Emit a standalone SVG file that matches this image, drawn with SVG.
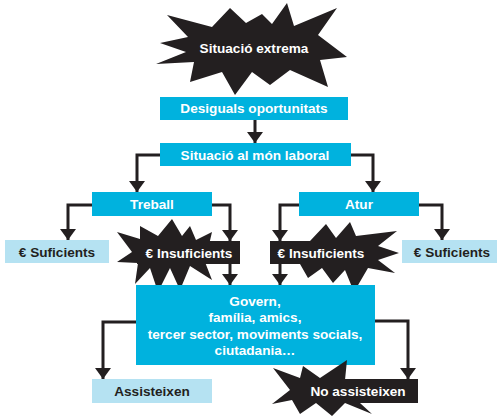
<svg xmlns="http://www.w3.org/2000/svg" width="500" height="416" viewBox="0 0 500 416">
<style>
.blue{fill:#00b2de}
.light{fill:#b5e2f2}
.dark{fill:#231f20}
.tw{font-family:"Liberation Sans",Arial,sans-serif;font-weight:bold;font-size:13.6px;fill:#ffffff;text-anchor:middle}
.td{font-family:"Liberation Sans",Arial,sans-serif;font-weight:bold;font-size:13.6px;fill:#231f20;text-anchor:middle}
.conn{fill:none;stroke:#231f20;stroke-width:3;marker-end:url(#arr)}
</style>
<defs>
<marker id="arr" markerUnits="userSpaceOnUse" markerWidth="12" markerHeight="16" refX="11" refY="8" orient="auto" viewBox="0 0 12 16">
<path d="M0,0 L11,8 L0,16 z" fill="#231f20"/>
</marker>
</defs>
<rect width="500" height="416" fill="#ffffff"/>
<g id="connectors">
<path class="conn" d="M255,120 V143"/>
<path class="conn" d="M160,155 H137 V192"/>
<path class="conn" d="M351,155 H373 V192"/>
<path class="conn" d="M92,205 H68 V240"/>
<path class="conn" d="M212,205 H230 V241"/>
<path class="conn" d="M230,264 V285"/>
<path class="conn" d="M299,205 H280 V241"/>
<path class="conn" d="M419,205 H442 V240"/>
<path class="conn" d="M280,264 V285"/>
<path class="conn" d="M136,322 H103 V379"/>
<path class="conn" d="M375,321 H408 V379"/>
</g>
<g id="situacio-extrema">
<polygon class="dark" points="160,43 188,37 167,15 212,27 230,8 246,23 262,14 272,24 287,3 294,26 337,8 318,35 347,57 320,60 328,87 290,70 270,85 252,72 235,95 222,72 190,82 194,62 156,64 186,52"/>
<text class="tw" x="254" y="53">Situació extrema</text>
</g>
<g id="desiguals">
<rect class="blue" x="160" y="97" width="188" height="23"/>
<text class="tw" x="254" y="113">Desiguals oportunitats</text>
</g>
<g id="mon-laboral">
<rect class="blue" x="160" y="143" width="191" height="23"/>
<text class="tw" x="255" y="159.5">Situació al món laboral</text>
</g>
<g id="treball">
<rect class="blue" x="92" y="192" width="120" height="24"/>
<text class="tw" x="152" y="209">Treball</text>
</g>
<g id="atur">
<rect class="blue" x="299" y="192" width="120" height="24"/>
<text class="tw" x="359" y="209">Atur</text>
</g>
<g id="suficients-left">
<rect class="light" x="5" y="240" width="104" height="23"/>
<text class="td" x="57" y="256.5">€ Suficients</text>
</g>
<g id="insuficients-left">
<polygon class="dark" points="117,232 140,239 140,226 158,236 172,219 182,236 190,226 196,240 212,232 205,262 212,280 190,266 180,290 170,268 158,292 150,268 135,284 138,263 117,262 132,252"/>
<rect class="dark" x="137" y="241" width="103" height="23"/>
<text class="tw" x="189" y="257.5">€ Insuficients</text>
</g>
<g id="insuficients-right">
<polygon class="dark" points="310,241 326,224 336,238 350,222 356,236 397,231 378,246 399,253 378,260 395,273 368,268 354,292 345,270 333,283 322,268 308,278 300,264"/>
<rect class="dark" x="270" y="241" width="102" height="23"/>
<text class="tw" x="321" y="257.5">€ Insuficients</text>
</g>
<g id="suficients-right">
<rect class="light" x="402" y="240" width="95" height="23"/>
<text class="td" x="452" y="256.5">€ Suficients</text>
</g>
<g id="govern">
<rect class="blue" x="136" y="285" width="239" height="80"/>
<text class="tw" x="255" y="306">Govern,</text>
<text class="tw" x="255" y="322.3">família, amics,</text>
<text class="tw" x="255" y="338.6">tercer sector, moviments socials,</text>
<text class="tw" x="255" y="355">ciutadania…</text>
</g>
<g id="assisteixen">
<rect class="light" x="92" y="379" width="120" height="24"/>
<text class="td" x="152" y="396">Assisteixen</text>
</g>
<g id="no-assisteixen">
<polygon class="dark" points="273,368 300,378 303,366 320,378 347,360 345,380 360,403 372,414 345,403 332,416 316,403 300,414 292,400 272,404 290,390"/>
<rect class="dark" x="295" y="379" width="123" height="24"/>
<text class="tw" x="358" y="396">No assisteixen</text>
</g>
</svg>
